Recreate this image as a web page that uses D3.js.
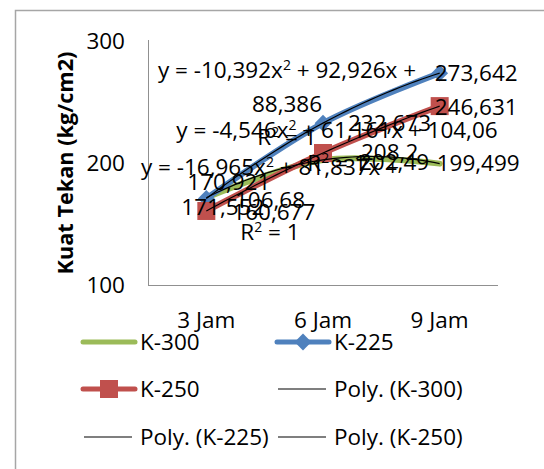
<!DOCTYPE html>
<html>
<head>
<meta charset="utf-8">
<script src="https://cdn.jsdelivr.net/npm/d3@7"></script>
<style>
  body { margin: 0; background: #fff; }
  text { font-family: "Open Sans", "Liberation Sans", sans-serif; fill: #000; }
</style>
</head>
<body>
<div id="chart"></div>
<script>
// values
const categories = ["3 Jam", "6 Jam", "9 Jam"];
const k300 = [171.552, 202.49, 199.499];
const k225 = [170.921, 232.673, 273.642];
const k250 = [160.677, 208.2, 246.631];
const yTicks = [100, 200, 300];

// trendline equation texts (as printed in the chart)
const eqK225 = ["y = -10,392x|2| + 92,926x + ", "88,386", "R|2| = 1"];
const eqK250 = ["y = -4,546x|2| + 61,161x + 104,06", "R|2| = 1"];
const eqK300 = ["y = -16,965x|2| + 81,837x + ", "106,68", "R|2| = 1"];

const W = 544, H = 469;
const plot = { left: 148, right: 498, top: 41, bottom: 285 };
const fs = "22.5px";

const svg = d3.select("#chart").append("svg")
  .attr("width", W)
  .attr("height", H);

// chart border (only left and top are inside the picture)
svg.append("path")
  .attr("d", `M15.5,${H} L15.5,10.5 L${W},10.5`)
  .attr("fill", "none")
  .attr("stroke", "#a6a6a6")
  .attr("stroke-width", 1.5);

const x = d3.scalePoint()
  .domain(categories)
  .range([plot.left, plot.right])
  .padding(0.5);

const y = d3.scaleLinear()
  .domain([100, 300])
  .range([plot.bottom, plot.top]);

// x as numeric 1..3 for the polynomial trendlines
const xi = d3.scaleLinear()
  .domain([1, categories.length])
  .range([x(categories[0]), x(categories[categories.length - 1])]);

//axes
svg.append("line")
  .attr("x1", plot.left + 0.5).attr("x2", plot.left + 0.5)
  .attr("y1", plot.top - 1).attr("y2", plot.bottom)
  .attr("stroke", "#909090");
svg.append("line")
  .attr("x1", plot.left).attr("x2", plot.right)
  .attr("y1", plot.bottom + 0.5).attr("y2", plot.bottom + 0.5)
  .attr("stroke", "#909090");

svg.selectAll(".ytick")
  .data(yTicks)
  .enter().append("text")
  .attr("class", "ytick")
  .attr("x", 125)
  .attr("y", d => y(d))
  .attr("dy", "0.35em")
  .attr("text-anchor", "end")
  .style("font-size", fs)
  .text(d => d);

svg.selectAll(".xtick")
  .data(categories)
  .enter().append("text")
  .attr("class", "xtick")
  .attr("x", d => x(d))
  .attr("y", 320)
  .attr("dy", "0.35em")
  .attr("text-anchor", "middle")
  .style("font-size", fs)
  .text(d => d);

// y axis title
svg.append("text")
  .attr("transform", `translate(65,${(plot.top + plot.bottom) / 2}) rotate(-90)`)
  .attr("dy", "0.35em")
  .attr("text-anchor", "middle")
  .style("font-size", "21.7px")
  .style("font-weight", "bold")
  .text("Kuat Tekan (kg/cm2)");

const series = [
  { name: "K-300", values: k300, color: "#9bbb59", marker: null },
  { name: "K-225", values: k225, color: "#4f81bd", marker: "diamond" },
  { name: "K-250", values: k250, color: "#c0504d", marker: "square" }
];

const line = d3.line()
  .x((d, i) => x(categories[i]))
  .y(d => y(d))
  .curve(d3.curveCatmullRom);

//colored series lines
series.forEach(s => {
  svg.append("path")
    .datum(s.values)
    .attr("d", line)
    .attr("fill", "none")
    .attr("stroke", s.color)
    .attr("stroke-width", 6)
    .attr("stroke-linecap", "round");
});

function drawMarker(g, type, cx, cy, color) {
  if (type === "diamond") {
    g.append("path")
      .attr("d", d3.symbol().type(d3.symbolDiamond2).size(180)())
      .attr("transform", `translate(${cx},${cy})`)
      .attr("fill", color);
  } else if (type === "square") {
    g.append("rect")
      .attr("x", cx - 9).attr("y", cy - 9)
      .attr("width", 18).attr("height", 18)
      .attr("fill", color);
  }
}

series.forEach(s => {
  s.values.forEach((v, i) => drawMarker(svg, s.marker, x(categories[i]), y(v), s.color));
});

// polynomial (order 2) trendline through the three points
function quadThrough(vals) {
  const xs = [1, 2, 3];
  return t => d3.sum(xs, (xj, j) => {
    let term = vals[j];
    xs.forEach((xk, k) => { if (k !== j) term *= (t - xk) / (xj - xk); });
    return term;
  });
}

const trendLine = d3.line()
  .x(d => xi(d[0]))
  .y(d => y(d[1]));

series.forEach(s => {
  const f = quadThrough(s.values);
  const pts = d3.range(1, 3.001, 0.05).map(t => [t, f(t)]);
  svg.append("path")
    .datum(pts)
    .attr("d", trendLine)
    .attr("fill", "none")
    .attr("stroke", "#000")
    .attr("stroke-width", 1.2);
});

// data labels, offsets from each point
const labelOffsets = {
  "K-225": [[-19, -16], [25, 0], [-5, 0]],
  "K-250": [[26, 1], [38, -1], [-5, 1]],
  "K-300": [[-25, 9], [36, 2], [-3, 0]]
};
const fmt = v => String(v).replace(".", ",");

series.forEach(s => {
  s.values.forEach((v, i) => {
    const off = labelOffsets[s.name][i];
    svg.append("text")
      .attr("x", x(categories[i]) + off[0])
      .attr("y", y(v) + off[1])
      .attr("dy", "0.35em")
      .style("font-size", fs)
      .text(fmt(v));
  });
});

// equation blocks (centre x, first line y, line step)
function eqBlock(lines, cx, cy, step) {
  lines.forEach((ln, k) => {
    const t = svg.append("text")
      .attr("x", cx)
      .attr("y", cy + k * step)
      .attr("dy", "0.35em")
      .attr("text-anchor", "middle")
      .style("font-size", fs);
    ln.split("|").forEach((part, p) => {
      if (p % 2 === 1) {
        t.append("tspan").attr("dy", -8).style("font-size", "14px").text(part);
      } else {
        t.append("tspan").attr("dy", p === 0 ? 0 : 8).text(part);
      }
    });
  });
}

eqBlock(eqK225, 287, 78, 33.5);
eqBlock(eqK250, 337, 138, 33);
eqBlock(eqK300, 270, 175, 32.5);

// legend
const legendItems = [
  { name: "K-300", color: "#9bbb59", w: 5, marker: null, lx: 83, ly: 342 },
  { name: "K-225", color: "#4f81bd", w: 5, marker: "diamond", lx: 277, ly: 342 },
  { name: "K-250", color: "#c0504d", w: 5, marker: "square", lx: 83, ly: 389 },
  { name: "Poly. (K-300)", color: "#000", w: 1.2, marker: null, lx: 278, ly: 389 },
  { name: "Poly. (K-225)", color: "#000", w: 1.2, marker: null, lx: 84, ly: 437 },
  { name: "Poly. (K-250)", color: "#000", w: 1.2, marker: null, lx: 278, ly: 437 }
];

legendItems.forEach(it => {
  const len = it.w > 2 ? 52 : 48;
  svg.append("line")
    .attr("x1", it.lx).attr("x2", it.lx + len)
    .attr("y1", it.ly).attr("y2", it.ly)
    .attr("stroke", it.color)
    .attr("stroke-width", it.w)
    .attr("stroke-linecap", it.w > 2 ? "round" : "butt");
  drawMarker(svg, it.marker, it.lx + len / 2, it.ly, it.color);
  svg.append("text")
    .attr("x", 140 + (it.lx > 200 ? 194 : 0))
    .attr("y", it.ly)
    .attr("dy", "0.35em")
    .style("font-size", fs)
    .text(it.name);
});
</script>
</body>
</html>
